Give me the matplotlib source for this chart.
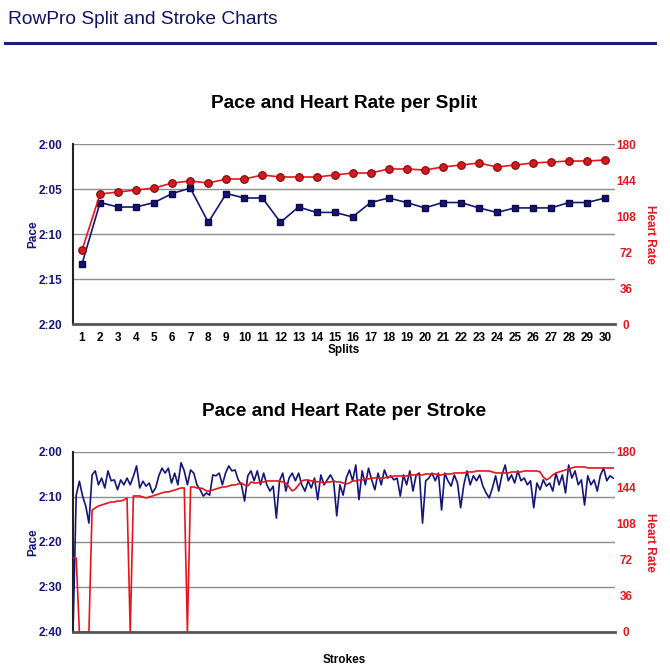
import numpy as np
import matplotlib
matplotlib.use("Agg")
import matplotlib.pyplot as plt
from matplotlib.ticker import FuncFormatter

plt.rcParams['font.family'] = ['Liberation Sans', 'DejaVu Sans']

# split data (pace in seconds per 500m, heart rate in bpm)
splits = list(range(1, 31))
split_pace = [133.3, 126.5, 127.0, 127.0, 126.5, 125.5, 124.9, 128.7, 125.5, 126.0,
              126.0, 128.7, 127.0, 127.6, 127.6, 128.1, 126.5, 126.0, 126.5, 127.1,
              126.5, 126.5, 127.1, 127.6, 127.1, 127.1, 127.1, 126.5, 126.5, 126.0]
split_hr = [74, 130, 132, 134, 136, 141, 143, 141, 145, 145,
            149, 147, 147, 147, 149, 151, 151, 155, 155, 154,
            157, 159, 161, 157, 159, 161, 162, 163, 163, 164]

# stroke data (pace offset from 2:00 in seconds, heart rate in bpm)
stroke_pace_offset = [
    40, 9.6, 6.5, 9.8, 12, 15.8, 5.1, 4.2, 7.3, 5.8, 8, 4.2, 6.4, 6.2, 8.4, 6.2, 7.3, 5.8, 7.3, 5.4,
    3.1, 8, 6.5, 7.6, 6.9, 9.1, 8, 5.3, 3.6, 4.7,
    3.6, 6.9, 4.7, 7.3, 2.4, 4.2, 7.3, 4, 4.7, 7.3, 8.4, 9.8, 9.1, 9.6, 5.1, 5.3, 4.7, 7.3, 4.7, 3.1,
    4.2, 4, 6.2, 7.3, 10.9, 5.3, 4.2,
    6.4, 4.2, 7.3, 4.7, 7.3, 8.7, 7.6, 14.7, 6.4, 4.7, 8.7, 5.8, 4.7, 6.4, 4.7, 7.3, 8.7, 6.4, 8, 5.8,
    10.6, 5.1, 7.3, 6.2, 5.1, 6.4, 14.2, 7.3,
    9.6, 5.8, 4, 6.4, 2.9, 10.6, 4.2, 7.3, 3.6, 6.2, 8.4, 4.7, 7.3, 4, 5.8, 5.3, 6.2, 5.8, 9.8, 5.1,
    7.3, 4.2, 8.7, 5.1, 4.7, 15.8, 6.4, 5.8, 4.7,
    6.4, 4.7, 12.9, 4.7, 6.4, 7.6, 5.1, 6.9, 12.4, 7.3, 4.2, 7.3, 5.3, 6.4, 5.1, 7.6, 9.1, 10.2, 8, 5.3,
    8.7, 5.1, 2.9, 6.4, 5.1, 6.9, 4.2,
    6.4, 5.8, 7.3, 6.4, 12.4, 6.9, 8.4, 6.2, 7.6, 6.9, 8.7, 4.7, 7.3, 5.1, 9.1, 2.9, 5.8, 4.2, 7.3, 6.2,
    11.8, 5.3, 7.3, 6.2, 8.7, 5.1, 3.6, 6.4, 5.3, 5.8]
stroke_hr = [
    74, 74, 0, 0, 0, 0, 122, 124, 126, 127, 128, 129, 130, 130, 131, 131, 132, 134, 0, 136,
    136, 136, 135, 134, 135, 136, 137, 138, 139, 140, 140, 141, 142, 143, 144, 144, 0, 145, 145, 144,
    144, 143, 141, 141, 142, 143, 144, 145, 145, 146, 147, 147, 148, 149, 147, 146, 150, 149, 149, 150,
    150, 151, 151, 151, 151, 151, 150, 149, 145, 141, 143, 147, 151, 152, 152, 151, 151, 150, 150, 149,
    150, 150, 151, 150, 150, 149, 148, 149, 151, 151, 152, 152, 153, 153, 154, 154, 154, 154, 154, 155,
    155, 156, 156, 156, 156, 156, 157, 157, 157, 157, 157, 158, 158, 158, 158, 157, 157, 158, 158, 158,
    159, 159, 159, 159, 160, 160, 160, 161, 161, 161, 161, 161, 160, 159, 159, 159, 159, 159, 160, 160,
    160, 160, 161, 161, 161, 161, 161, 160, 155, 152, 154, 157, 159, 160, 161, 162, 163, 164, 165, 165,
    165, 165, 164, 164, 164, 164, 164, 164, 164, 164, 164]

strokes = np.arange(len(stroke_pace_offset))
stroke_pace = 120 + np.array(stroke_pace_offset)

navy = "#14147a"
red = "#e8141c"
grid_col = "#8c8c8c"


def pace_fmt(v, pos):
    v = int(round(v))
    return "%d:%02d" % (v // 60, v % 60)


def setup_axes(ax, ax2, pace_lim, pace_ticks):
    ax.set_ylim(pace_lim[1], pace_lim[0])
    ax.set_yticks(pace_ticks)
    ax.yaxis.set_major_formatter(FuncFormatter(pace_fmt))
    ax.grid(axis='y', color=grid_col, linewidth=1)
    ax.set_axisbelow(True)
    ax.tick_params(axis='y', length=0, pad=8, labelsize=8.5, labelcolor=navy)
    for lab in ax.get_yticklabels():
        lab.set_fontweight('bold')
    ax.spines['top'].set_visible(False)
    ax.spines['right'].set_visible(False)
    ax.spines['left'].set_color("#222222")
    ax.spines['left'].set_linewidth(1.5)
    ax.spines['bottom'].set_color("#555555")
    ax.spines['bottom'].set_linewidth(2)
    ax.set_ylabel('Pace', color=navy, fontsize=8.5, fontweight='bold', va='center')
    ax.yaxis.set_label_coords(-0.074, 0.5)

    ax2.set_ylim(0, 180)
    ax2.set_yticks([0, 36, 72, 108, 144, 180])
    ax2.tick_params(axis='y', length=0, pad=8, labelsize=8.5, labelcolor=red)
    for lab in ax2.get_yticklabels():
        lab.set_fontweight('bold')
        lab.set_horizontalalignment('center')
    for s in ax2.spines.values():
        s.set_visible(False)
    ax2.set_ylabel('Heart Rate', color=red, fontsize=8.5, fontweight='bold',
                   rotation=-90, va='center')
    ax2.yaxis.set_label_coords(1.065, 0.5)


fig = plt.figure(figsize=(6.7, 6.67), dpi=100)

# page header
fig.text(0.012, 0.983, "RowPro Split and Stroke Charts", color="#10106a",
         fontsize=13.8, va='top', ha='left')
fig.add_artist(plt.Line2D([0.008, 0.978], [0.935, 0.935], color="#1a1a80",
                          linewidth=2.2))

# split chart
ax = fig.add_axes([0.109, 0.5142, 0.809, 0.2699])
ax2 = ax.twinx()
setup_axes(ax, ax2, (120, 140), [120, 125, 130, 135, 140])
ax.plot(splits, split_pace, color=navy, linewidth=1.2, marker='s', markersize=5,
        markerfacecolor=navy, markeredgecolor="#0a0a40")
ax2.plot(splits, split_hr, color=red, linewidth=1.2, marker='o', markersize=5.5,
         markerfacecolor="#d81820", markeredgecolor="#7a0a0a", markeredgewidth=0.8)
ax.set_xlim(0.5, 30.55)
ax.set_xticks(splits)
ax.tick_params(axis='x', length=0, pad=6, labelsize=8.5)
for lab in ax.get_xticklabels():
    lab.set_fontweight('bold')
ax.set_xlabel('Splits', fontsize=8.5, fontweight='bold', labelpad=0)
ax.set_title('Pace and Heart Rate per Split', fontsize=13.8, fontweight='bold', pad=26)

# stroke chart
bx = fig.add_axes([0.109, 0.0525, 0.809, 0.2699])
bx2 = bx.twinx()
setup_axes(bx, bx2, (120, 160), [120, 130, 140, 150, 160])
bx.plot(strokes, stroke_pace, color=navy, linewidth=1.2)
bx2.plot(strokes, stroke_hr, color=red, linewidth=1.2)
bx.set_xlim(0, 170.6)
bx.set_xticks([])
bx.set_xlabel('Strokes', fontsize=8.5, fontweight='bold', labelpad=16)
bx.set_title('Pace and Heart Rate per Stroke', fontsize=13.8, fontweight='bold', pad=26)

fig.savefig("out.png", dpi=100)
